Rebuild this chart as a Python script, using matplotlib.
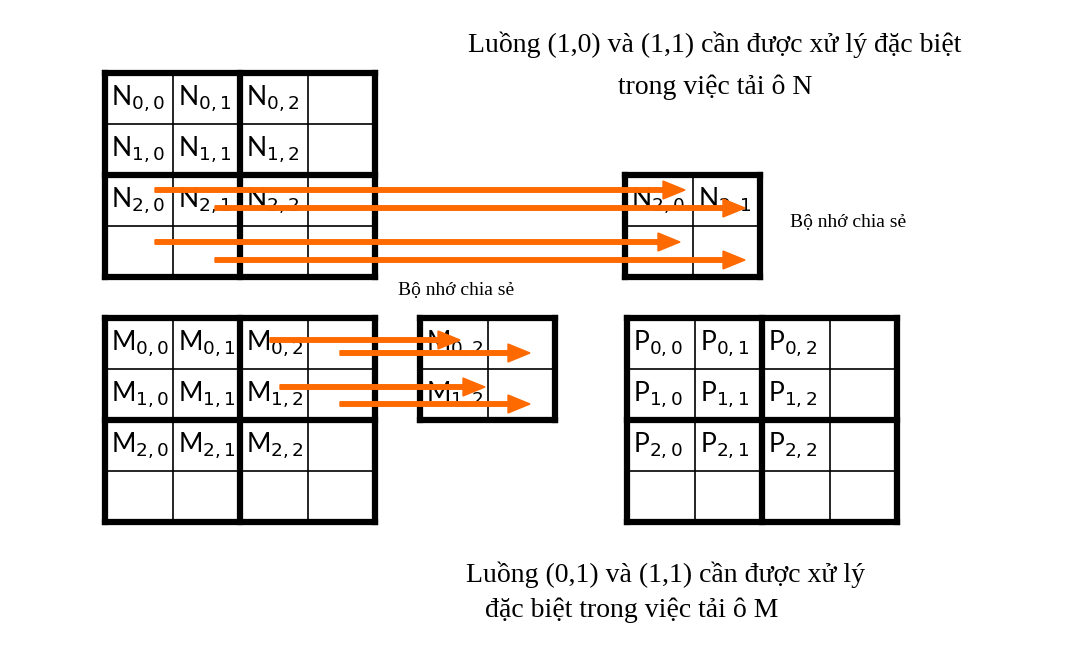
import matplotlib.pyplot as plt
from matplotlib.patches import FancyArrow

plt.rcParams['font.family'] = ['Liberation Serif', 'DejaVu Serif']

W, H = 1092, 652
CELL_W, CELL_H = 67.5, 51

# grid origins (top-left, pixels) and letters
grids = [("N", 105, 73), ("M", 105, 318), ("P", 627, 318)]
# shared memory tiles: letter, x, y, labels shown
shared = [("N", 625, 175, ["2,0", "2,1"]), ("M", 420, 318, ["0,2", "1,2"])]
# arrows: y, x start, x end
arrows_y = [190, 208, 242, 260, 340, 353, 387, 404]
arrows_x0 = [155, 215, 155, 215, 270, 340, 280, 340]
arrows_x1 = [685, 745, 680, 745, 460, 530, 485, 530]

top_title = ["Luồng (1,0) và (1,1) cần được xử lý đặc biệt", "trong việc tải ô N"]
bottom_title = ["Luồng (0,1) và (1,1) cần được xử lý", "đặc biệt trong việc tải ô M"]
shared_label = "Bộ nhớ chia sẻ"

fig = plt.figure(figsize=(W / 100, H / 100), dpi=100)
ax = fig.add_axes([0, 0, 1, 1])
ax.set_xlim(0, W)
ax.set_ylim(H, 0)
ax.axis('off')

cell_font = dict(family=['Lato', 'DejaVu Sans'], fontsize=19, va='center', ha='left')


def draw_grid(x0, y0, n, thick_every):
    for i in range(n + 1):
        lw = 4.5 if i % thick_every == 0 else 1.2
        x = x0 + i * CELL_W
        ax.plot([x, x], [y0, y0 + n * CELL_H], color='black', lw=lw, solid_capstyle='projecting')
        y = y0 + i * CELL_H
        ax.plot([x0, x0 + n * CELL_W], [y, y], color='black', lw=lw, solid_capstyle='projecting')


for letter, x0, y0 in grids:
    draw_grid(x0, y0, 4, 2)
    for r in range(3):
        for c in range(3):
            ax.text(x0 + c * CELL_W + 6, y0 + r * CELL_H + CELL_H / 2,
                    r"%s$_{%d,%d}$" % (letter, r, c), **cell_font)

for letter, x0, y0, labs in shared:
    draw_grid(x0, y0, 2, 2)
    for r, lab in enumerate(labs):
        if letter == "N":
            ax.text(x0 + 6 + r * CELL_W, y0 + CELL_H / 2, r"%s$_{%s}$" % (letter, lab), **cell_font)
        else:
            ax.text(x0 + 6, y0 + r * CELL_H + CELL_H / 2, r"%s$_{%s}$" % (letter, lab), **cell_font)

for y, xa, xb in zip(arrows_y, arrows_x0, arrows_x1):
    ax.add_patch(FancyArrow(xa, y, xb - xa, 0, width=4.5, head_width=18, head_length=22,
                            length_includes_head=True, color='#FF6A00', zorder=5))

ax.text(715, 45, top_title[0], fontsize=20, ha='center', va='center')
ax.text(715, 87, top_title[1], fontsize=20, ha='center', va='center')
ax.text(665, 575, bottom_title[0], fontsize=20, ha='center', va='center')
ax.text(632, 610, bottom_title[1], fontsize=20, ha='center', va='center')
ax.text(790, 222, shared_label, fontsize=14, ha='left', va='center')
ax.text(398, 290, shared_label, fontsize=14, ha='left', va='center')

fig.savefig("out.png", dpi=100)
